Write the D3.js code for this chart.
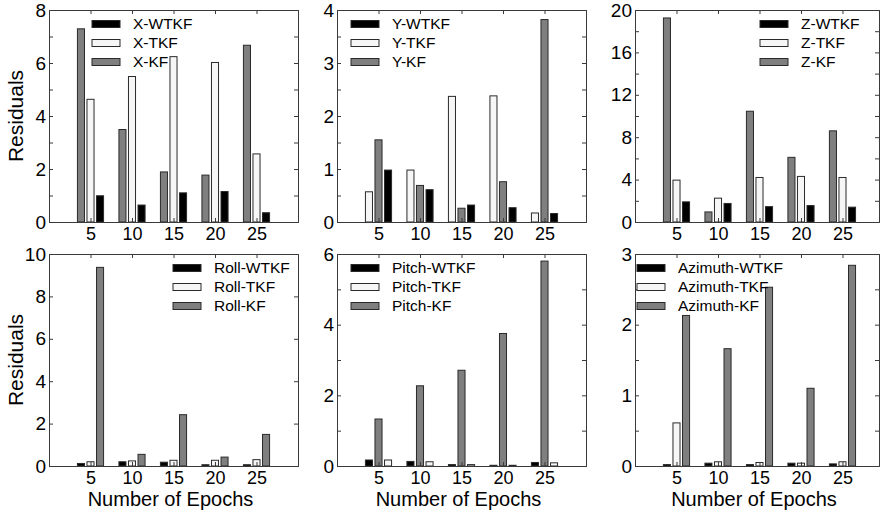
<!DOCTYPE html>
<html>
<head>
	<script src="https://cdn.jsdelivr.net/npm/d3@7"></script>
	<style>
		html, body {
			padding: 0;
			margin: 0;
			background: #fff;
		}
		text {
			font-family: "Liberation Sans", Arial, sans-serif;
			fill: #000;
		}
	</style>
</head>
<body>
	<script>
		// ~ ~ ~ DATA ~ ~ ~
		const epochs = [5, 10, 15, 20, 25];

		const xWTKF = [0.99, 0.64, 1.10, 1.15, 0.35];
		const xTKF = [4.63, 5.49, 6.24, 6.02, 2.57];
		const xKF = [7.29, 3.49, 1.89, 1.77, 6.67];

		const yWTKF = [0.98, 0.61, 0.32, 0.27, 0.16];
		const yTKF = [0.57, 0.98, 2.37, 2.38, 0.17];
		const yKF = [1.55, 0.69, 0.26, 0.76, 3.82];

		const zWTKF = [1.90, 1.75, 1.45, 1.55, 1.40];
		const zTKF = [3.95, 2.25, 4.20, 4.30, 4.20];
		const zKF = [19.25, 0.95, 10.45, 6.10, 8.60];

		const rollWTKF = [0.12, 0.20, 0.18, 0.06, 0.06];
		const rollTKF = [0.20, 0.24, 0.27, 0.27, 0.30];
		const rollKF = [9.37, 0.55, 2.42, 0.42, 1.49];

		const pitchWTKF = [0.17, 0.13, 0.04, 0.02, 0.10];
		const pitchTKF = [0.17, 0.12, 0.04, 0.02, 0.09];
		const pitchKF = [1.33, 2.27, 2.71, 3.75, 5.80];

		const azWTKF = [0.02, 0.04, 0.02, 0.04, 0.03];
		const azTKF = [0.61, 0.06, 0.05, 0.04, 0.06];
		const azKF = [2.13, 1.66, 2.53, 1.10, 2.84];

		// legend rows are always WTKF, TKF, KF
		const legendKeys = ["WTKF", "TKF", "KF"];

		// ~ ~ ~ STYLE ~ ~ ~
		const FILL = { WTKF: "#000000", TKF: "#f6f6f6", KF: "#7f7f7f" };
		const BAR_STROKE = "#2a2a2a";
		const AXIS_COLOR = "#3a3a3a";
		const BAR_W = 0.85;     // in x units
		const BAR_STEP = 1.15;  // in x units

		var width = 881, height = 514;

		var svg = d3.select("body").append("svg")
			.attr("width", width)
			.attr("height", height);

		svg.append("rect").attr("width", width).attr("height", height).attr("fill", "#fff");

		// right column is cut a little short by the figure edge
		var panels = [
			{ label: "X", wtkf: xWTKF, tkf: xTKF, kf: xKF, order: ["KF", "TKF", "WTKF"],
			  yMax: 8, minor: 1, major: 2, xMax: 30, left: 49, right: 298, top: 10, bottom: 222, legX: 92, ylab: true, xlab: false },
			{ label: "Y", wtkf: yWTKF, tkf: yTKF, kf: yKF, order: ["TKF", "KF", "WTKF"],
			  yMax: 4, minor: 0.5, major: 1, xMax: 30, left: 337, right: 586, top: 10, bottom: 222, legX: 351, ylab: false, xlab: false },
			{ label: "Z", wtkf: zWTKF, tkf: zTKF, kf: zKF, order: ["KF", "TKF", "WTKF"],
			  yMax: 20, minor: 2, major: 4, xMax: 29.4, left: 635, right: 879, top: 10, bottom: 222, legX: 760, ylab: false, xlab: false },
			{ label: "Roll", wtkf: rollWTKF, tkf: rollTKF, kf: rollKF, order: ["WTKF", "TKF", "KF"],
			  yMax: 10, minor: 2, major: 2, xMax: 30, left: 49, right: 298, top: 254, bottom: 466, legX: 173, ylab: true, xlab: true },
			{ label: "Pitch", wtkf: pitchWTKF, tkf: pitchTKF, kf: pitchKF, order: ["WTKF", "KF", "TKF"],
			  yMax: 6, minor: 1, major: 2, xMax: 30, left: 337, right: 586, top: 254, bottom: 466, legX: 351, ylab: false, xlab: true },
			{ label: "Azimuth", wtkf: azWTKF, tkf: azTKF, kf: azKF, order: ["WTKF", "TKF", "KF"],
			  yMax: 3, minor: 0.5, major: 1, xMax: 29.4, left: 635, right: 879, top: 254, bottom: 466, legX: 637, ylab: false, xlab: true }
		];

		var drawPanel = function(p) {
			var g = svg.append("g");
			var x = d3.scaleLinear().domain([0, p.xMax]).range([p.left, p.right]);
			var y = d3.scaleLinear().domain([0, p.yMax]).range([p.bottom, p.top]);
			var series = { WTKF: p.wtkf, TKF: p.tkf, KF: p.kf };
			var unitPx = x(1) - x(0);

			// bars
			p.order.forEach(function(key, k) {
				var off = (k - 1) * BAR_STEP;
				g.selectAll(null)
					.data(epochs.map((e, i) => ({ e: e, v: series[key][i] })))
					.enter().append("rect")
					.attr("x", (d) => x(d.e + off - BAR_W / 2))
					.attr("width", BAR_W * unitPx)
					.attr("y", (d) => y(d.v))
					.attr("height", (d) => y(0) - y(d.v))
					.attr("fill", FILL[key])
					.attr("stroke", BAR_STROKE)
					.attr("stroke-width", 1);
			});

			// y ticks (inward, both sides)
			var nTicks = Math.round(p.yMax / p.minor);
			var yTicks = d3.range(0, nTicks + 1).map((i) => i * p.minor);
			var yAxisL = d3.axisLeft(y).tickValues(yTicks).tickSize(-4).tickPadding(7)
				.tickFormat((d) => (Math.abs(d / p.major - Math.round(d / p.major)) < 1e-6) ? d3.format("d")(d) : "");
			var gl = g.append("g").attr("transform", "translate(" + p.left + ",0)").call(yAxisL);
			var yAxisR = d3.axisRight(y).tickValues(yTicks).tickSize(-4).tickFormat("");
			var gr = g.append("g").attr("transform", "translate(" + p.right + ",0)").call(yAxisR);

			// x ticks (inward, top and bottom)
			var xAxisB = d3.axisBottom(x).tickValues(epochs).tickSize(-4).tickPadding(5).tickFormat(d3.format("d"));
			var gb = g.append("g").attr("transform", "translate(0," + p.bottom + ")").call(xAxisB);
			var xAxisT = d3.axisTop(x).tickValues(epochs).tickSize(-4).tickFormat("");
			var gt = g.append("g").attr("transform", "translate(0," + p.top + ")").call(xAxisT);

			[gl, gr, gb, gt].forEach(function(ax) {
				ax.select(".domain").attr("stroke", AXIS_COLOR);
				ax.selectAll(".tick line").attr("stroke", AXIS_COLOR);
				ax.selectAll("text").style("font-size", "19px").attr("fill", "#000")
					.style("font-family", "'Liberation Sans', Arial, sans-serif");
			});
			gb.selectAll("text").style("font-size", "18px");
			gl.selectAll("text").attr("dx", "4px");

			// legend
			legendKeys.forEach(function(key, i) {
				var cy = p.top + 14 + i * 19;
				g.append("rect")
					.attr("x", p.legX).attr("y", cy - 3.5)
					.attr("width", 28).attr("height", 7)
					.attr("fill", FILL[key])
					.attr("stroke", BAR_STROKE).attr("stroke-width", 1);
				g.append("text")
					.attr("x", p.legX + 41).attr("y", cy)
					.attr("dy", "0.35em")
					.style("font-size", "15.5px")
					.text(p.label + "-" + key);
			});

			if (p.ylab) {
				g.append("text")
					.attr("transform", "translate(23," + ((p.top + p.bottom) / 2) + ") rotate(-90)")
					.attr("text-anchor", "middle")
					.style("font-size", "21px")
					.text("Residuals");
			}
			if (p.xlab) {
				g.append("text")
					.attr("x", (p.left + p.right) / 2 - 3)
					.attr("y", 506)
					.attr("text-anchor", "middle")
					.style("font-size", "20px")
					.text("Number of Epochs");
			}
		};

		panels.forEach(drawPanel);
	</script>
</body>
</html>
